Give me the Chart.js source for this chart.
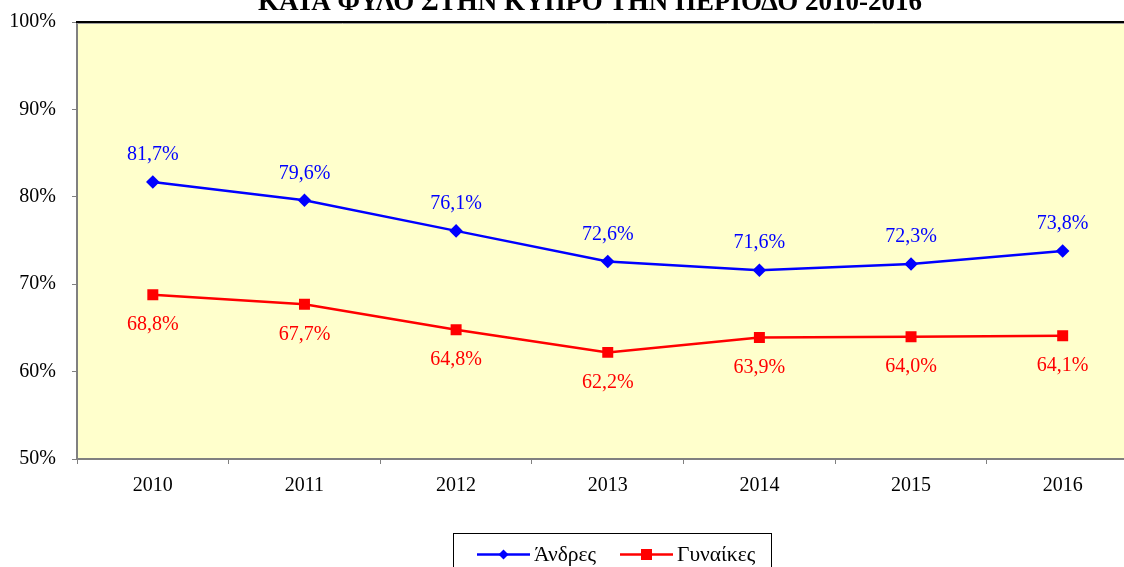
<!DOCTYPE html>
<html>
<head>
<meta charset="utf-8">
<script src="https://cdn.jsdelivr.net/npm/chart.js@4/dist/chart.umd.min.js"></script>
<style>
html,body{margin:0;padding:0;overflow:hidden;background:#fff;width:1124px;height:567px;}
#wrap{position:absolute;left:0;top:0;width:1147px;height:567px;}
</style>
</head>
<body>
<div id="wrap"><canvas id="c" width="1147" height="567"></canvas></div>
<script>
const titleText = 'ΚΑΤΑ ΦΥΛΟ ΣΤΗΝ ΚΥΠΡΟ ΤΗΝ ΠΕΡΙΟΔΟ 2010-2016';
const years = ['2010','2011','2012','2013','2014','2015','2016'];
const men = [81.7, 79.6, 76.1, 72.6, 71.6, 72.3, 73.8];
const women = [68.8, 67.7, 64.8, 62.2, 63.9, 64.0, 64.1];
const seriesNames = ['Άνδρες', 'Γυναίκες'];

const FONT = '"Liberation Serif", "Times New Roman", serif';
const fmt = v => v.toFixed(1).replace('.', ',') + '%';

const bgPlugin = {
  id: 'bg',
  beforeDraw(chart) {
    const {ctx, chartArea: a} = chart;
    ctx.save();
    ctx.fillStyle = '#FFFFCC';
    ctx.fillRect(a.left, a.top, a.right - a.left, a.bottom - a.top);
    ctx.restore();
  },
  afterDraw(chart) {
    const {ctx, chartArea: a} = chart;
    ctx.save();
    ctx.strokeStyle = '#000';
    ctx.lineWidth = 2;
    ctx.beginPath();
    ctx.moveTo(a.left - 1, a.top);
    ctx.lineTo(a.right, a.top);
    ctx.stroke();
    ctx.strokeStyle = '#a0a0a0';
    ctx.lineWidth = 1;
    ctx.beginPath();
    ctx.moveTo(a.left, a.top + 1.5);
    ctx.lineTo(a.right, a.top + 1.5);
    ctx.stroke();
    // title (clipped at top of page)
    ctx.fillStyle = '#000';
    ctx.font = 'bold 27px ' + FONT;
    ctx.textAlign = 'center';
    ctx.textBaseline = 'alphabetic';
    ctx.fillText(titleText, 590, 9.5);
    ctx.restore();
  }
};

const labelPlugin = {
  id: 'vals',
  afterDatasetsDraw(chart) {
    const {ctx} = chart;
    ctx.save();
    ctx.font = '20px ' + FONT;
    ctx.textAlign = 'center';
    ctx.textBaseline = 'middle';
    chart.data.datasets.forEach((ds, i) => {
      const meta = chart.getDatasetMeta(i);
      ctx.fillStyle = ds.borderColor;
      meta.data.forEach((pt, j) => {
        const dy = i === 0 ? -27 : 30;
        ctx.fillText(fmt(ds.data[j]), pt.x, pt.y + dy);
      });
    });
    ctx.restore();
  }
};

const legendPlugin = {
  id: 'legbox',
  afterDraw(chart) {
    const {ctx} = chart;
    ctx.save();
    ctx.strokeStyle = '#000';
    ctx.lineWidth = 1;
    ctx.strokeRect(453.5, 533.5, 318, 40);
    ctx.font = '21.5px ' + FONT;
    ctx.textBaseline = 'middle';
    ctx.textAlign = 'left';
    const items = [
      {x1: 477, x2: 530, tx: 534, ds: chart.data.datasets[0], shape: 'diamond'},
      {x1: 620, x2: 673, tx: 677, ds: chart.data.datasets[1], shape: 'square'}
    ];
    const y = 554.5;
    items.forEach(it => {
      ctx.strokeStyle = it.ds.borderColor;
      ctx.lineWidth = 2.5;
      ctx.beginPath();
      ctx.moveTo(it.x1, y);
      ctx.lineTo(it.x2, y);
      ctx.stroke();
      const cx = (it.x1 + it.x2) / 2;
      ctx.fillStyle = it.ds.borderColor;
      if (it.shape === 'diamond') {
        ctx.beginPath();
        ctx.moveTo(cx, y - 5); ctx.lineTo(cx + 5, y); ctx.lineTo(cx, y + 5); ctx.lineTo(cx - 5, y);
        ctx.closePath(); ctx.fill();
      } else {
        ctx.fillRect(cx - 5.5, y - 5.5, 11, 11);
      }
      ctx.fillStyle = '#000';
      ctx.fillText(it.ds.label, it.tx, y + 1);
    });
    ctx.restore();
  }
};

new Chart(document.getElementById('c'), {
  type: 'line',
  data: {
    labels: years,
    datasets: [
      {label: seriesNames[0], data: men, borderColor: '#0000FF', backgroundColor: '#0000FF',
       borderWidth: 2.5, pointStyle: 'rectRot', pointRadius: 5, pointHoverRadius: 5, tension: 0},
      {label: seriesNames[1], data: women, borderColor: '#FF0000', backgroundColor: '#FF0000',
       borderWidth: 2.5, pointStyle: 'rect', pointRadius: 6, pointHoverRadius: 6, tension: 0}
    ]
  },
  options: {
    responsive: false,
    animation: false,
    events: [],
    layout: {padding: {top: 22, right: 0, left: 0, bottom: 0}},
    plugins: {legend: {display: false}, title: {display: false}, tooltip: {enabled: false}},
    scales: {
      x: {
        offset: true,
        grid: {offset: true, drawOnChartArea: false, drawTicks: true, tickLength: 5, color: '#808080', lineWidth: 1},
        border: {color: '#808080', width: 2},
        ticks: {color: '#000', font: {family: FONT, size: 20}, padding: 10, maxRotation: 0},
        afterFit(s) { s.height = 108; s.paddingLeft = 0; s.paddingRight = 0; }
      },
      y: {
        min: 50, max: 100,
        grid: {drawOnChartArea: false, drawTicks: true, tickLength: 5, color: '#808080', lineWidth: 1},
        border: {color: '#808080', width: 2},
        ticks: {stepSize: 10, color: '#000', font: {family: FONT, size: 20}, padding: 16,
                callback: v => v + '%'},
        afterFit(s) { s.width = 77; s.paddingTop = 0; s.paddingBottom = 0; }
      }
    }
  },
  plugins: [bgPlugin, labelPlugin, legendPlugin]
});
</script>
</body>
</html>
